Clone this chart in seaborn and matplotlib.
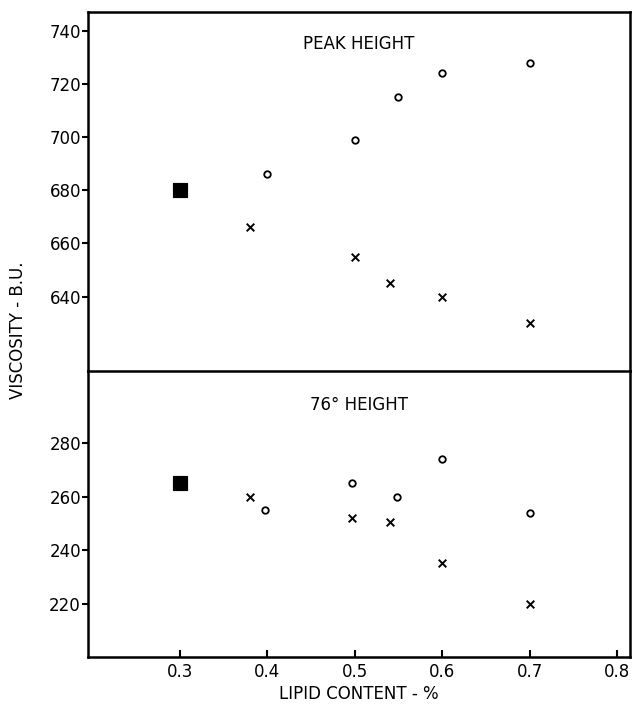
import matplotlib as mpl
mpl.use('Agg')
import matplotlib.pyplot as plt
import pandas as pd
import seaborn as sns

# control (square) sample
control_lipid = [0.3]
peak_control = [680]
h76_control = [265]

# circles
peak_circle_lipid = [0.40, 0.50, 0.55, 0.60, 0.70]
peak_circle_visc = [686, 699, 715, 724, 728]
h76_circle_lipid = [0.397, 0.497, 0.548, 0.60, 0.70]
h76_circle_visc = [255, 265, 260, 274, 254]

# crosses
peak_cross_lipid = [0.38, 0.50, 0.54, 0.60, 0.70]
peak_cross_visc = [666, 655, 645, 640, 630]
h76_cross_lipid = [0.38, 0.497, 0.541, 0.60, 0.70]
h76_cross_visc = [260, 252, 250.5, 235, 220]

x_ticks = [0.3, 0.4, 0.5, 0.6, 0.7, 0.8]
peak_ticks = [640, 660, 680, 700, 720, 740]
h76_ticks = [220, 240, 260, 280]


def frame(lipid, visc):
    return pd.DataFrame({'lipid': lipid, 'viscosity': visc})


sns.set_style('white')
plt.rcParams['font.family'] = ['DejaVu Sans']
plt.rcParams['text.color'] = 'black'

fig = plt.figure(figsize=(6.32, 7.07), dpi=100)
ax_top = fig.add_axes([0.139, 0.4752, 0.858, 0.5078])
ax_bot = fig.add_axes([0.139, 0.0707, 0.858, 0.4045], sharex=ax_top)

panels = [
    (ax_top, 'PEAK HEIGHT', 0.91, peak_control, peak_circle_lipid, peak_circle_visc,
     peak_cross_lipid, peak_cross_visc, peak_ticks, (612, 747)),
    (ax_bot, '76° HEIGHT', 0.88, h76_control, h76_circle_lipid, h76_circle_visc,
     h76_cross_lipid, h76_cross_visc, h76_ticks, (200, 307)),
]

for ax, title, ty, ctrl, cl, cv, xl, xv, yt, ylim in panels:
    sns.scatterplot(data=frame(control_lipid, ctrl), x='lipid', y='viscosity',
                    marker='s', s=110, color='black', edgecolor='black', ax=ax)
    sns.scatterplot(data=frame(cl, cv), x='lipid', y='viscosity',
                    marker='o', s=22, facecolor='white', edgecolor='black',
                    linewidth=1.3, ax=ax)
    sns.scatterplot(data=frame(xl, xv), x='lipid', y='viscosity',
                    marker='x', s=30, color='black', linewidth=1.4, ax=ax)
    ax.set_ylim(*ylim)
    ax.set_yticks(yt)
    ax.set_yticklabels([str(v) for v in yt], fontsize=12)
    ax.set_ylabel('')
    ax.set_xlabel('')
    ax.text(0.5, ty, title, transform=ax.transAxes,
            ha='center', va='center', fontsize=12, color='black')
    for sp in ax.spines.values():
        sp.set_linewidth(1.8)
        sp.set_color('black')
    ax.tick_params(axis='y', direction='out', length=4, width=1.5, left=True,
                   pad=1, colors='black')

ax_top.spines['bottom'].set_visible(False)
ax_top.tick_params(axis='x', bottom=False, labelbottom=False)

ax_bot.set_xlim(0.195, 0.815)
ax_bot.set_xticks(x_ticks)
ax_bot.set_xticklabels([str(v) for v in x_ticks], fontsize=12)
ax_bot.tick_params(axis='x', direction='in', length=5, width=1.5, bottom=True,
                   pad=4, colors='black')
ax_bot.set_xlabel('LIPID CONTENT - %', fontsize=12, labelpad=3, color='black')

fig.text(0.028, 0.533, 'VISCOSITY - B.U.', rotation=90, ha='center',
         va='center', fontsize=12, color='black')

fig.savefig('out.png', dpi=100)
